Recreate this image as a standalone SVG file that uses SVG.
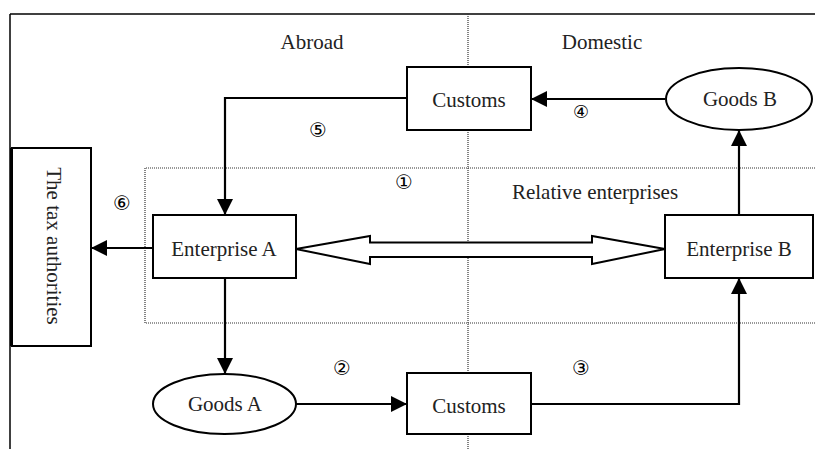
<svg xmlns="http://www.w3.org/2000/svg" width="815" height="449" viewBox="0 0 815 449">
<style>
  .box { fill: #fff; stroke: #000; stroke-width: 2; }
  .lbl { font-family: "Liberation Serif", "Times New Roman", serif; font-size: 21px; fill: #222; text-anchor: middle; }
  .num { font-family: "DejaVu Sans", sans-serif; font-size: 20px; fill: #000; text-anchor: middle; }
  .conn { fill: none; stroke: #000; stroke-width: 2.2; }
  .dot { fill: none; stroke: #333; stroke-width: 1.2; stroke-dasharray: 1 1; }
</style>
<defs>
  <marker id="ah" markerUnits="userSpaceOnUse" markerWidth="16" markerHeight="16" viewBox="0 0 16 16" refX="16" refY="8" orient="auto">
    <path d="M0,0 L16,8 L0,16 Z" fill="#000"/>
  </marker>
</defs>
<rect width="815" height="449" fill="#fff"/>
<g id="frame">
  <line x1="10" y1="14" x2="815" y2="14" stroke="#000" stroke-width="1.5"/>
  <line x1="10" y1="14" x2="10" y2="449" stroke="#000" stroke-width="1.5"/>
  <line class="dot" x1="468" y1="14" x2="468" y2="449"/>
  <text class="lbl" x="312" y="49">Abroad</text>
  <text class="lbl" x="602" y="49">Domestic</text>
</g>
<g id="relative">
  <path class="dot" d="M815,168 H145 V323 H815"/>
  <text class="lbl" x="595" y="199">Relative enterprises</text>
</g>
<g id="tax">
  <rect class="box" x="12" y="148" width="79" height="198"/>
  <line x1="11.5" y1="148" x2="11.5" y2="346" stroke="#000" stroke-width="3"/>
  <text class="lbl" transform="translate(47,246) rotate(90)" x="0" y="0">The tax authorities</text>
</g>
<g id="customs-top">
  <rect class="box" x="407" y="67" width="124" height="63"/>
  <text class="lbl" x="469" y="107">Customs</text>
</g>
<g id="goods-b">
  <ellipse class="box" cx="739" cy="99" rx="73" ry="31"/>
  <text class="lbl" x="740" y="106">Goods B</text>
</g>
<g id="enterprise-a">
  <rect class="box" x="153" y="215" width="143" height="63"/>
  <text class="lbl" x="224" y="256">Enterprise A</text>
</g>
<g id="enterprise-b">
  <rect class="box" x="665" y="215" width="148" height="63"/>
  <text class="lbl" x="739" y="256">Enterprise B</text>
</g>
<g id="goods-a">
  <ellipse class="box" cx="224.5" cy="404" rx="71.5" ry="30"/>
  <text class="lbl" x="225" y="411">Goods A</text>
</g>
<g id="customs-bottom">
  <rect class="box" x="407" y="373" width="124" height="61"/>
  <text class="lbl" x="469" y="413">Customs</text>
</g>
<g id="connectors">
  <line class="conn" x1="665" y1="99" x2="531" y2="99" marker-end="url(#ah)"/>
  <polyline class="conn" points="407,98 225,98 225,215" marker-end="url(#ah)"/>
  <line class="conn" x1="153" y1="248" x2="91" y2="248" marker-end="url(#ah)"/>
  <line class="conn" x1="739" y1="215" x2="739" y2="130" marker-end="url(#ah)"/>
  <line class="conn" x1="225" y1="278" x2="225" y2="374" marker-end="url(#ah)"/>
  <line class="conn" x1="296" y1="404" x2="407" y2="404" marker-end="url(#ah)"/>
  <polyline class="conn" points="531,404 739,404 739,278" marker-end="url(#ah)"/>
  <polygon points="296,249 370,236 370,242.5 592,242.5 592,236 665,249 592,264 592,257 370,257 370,264" fill="#fff" stroke="#000" stroke-width="2" stroke-linejoin="miter"/>
  <text class="num" x="318" y="137">⑤</text>
  <text class="num" x="581" y="118" style="font-size:18px">④</text>
  <text class="num" x="404" y="189">①</text>
  <text class="num" x="122" y="210">⑥</text>
  <text class="num" x="342" y="375">②</text>
  <text class="num" x="581" y="375">③</text>
</g>
</svg>
